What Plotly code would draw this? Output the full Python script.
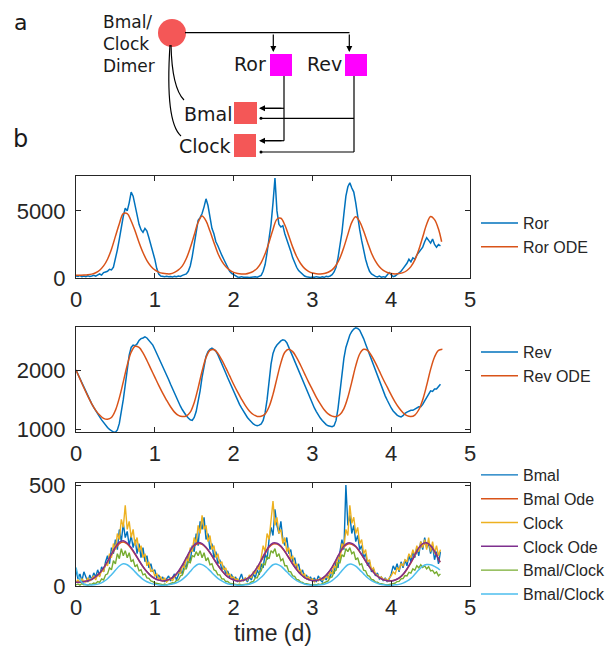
import numpy as np
import plotly.graph_objects as go

# ---------------- DATA ----------------
# stochastic series sampled every 0.025 d (0 .. 4.625)
t_stoch = [round(0.025 * i, 3) for i in range(186)]

ror = [150, 120, 180, 100, 140, 90, 160, 110,
       150, 200, 130, 250, 300, 220, 400, 450,
       500, 650, 600, 800, 1400, 2100, 2900, 3800,
       4600, 5200, 5000, 5600, 6400, 6100, 5300, 4600,
       4000, 3600, 3400, 3700, 3500, 3000, 2500, 2000,
       1400, 700, 300, 150, 120, 100, 130, 90,
       110, 80, 120, 90, 150, 120, 200, 280,
       300, 500, 900, 1600, 2500, 3500, 4300, 4500,
       4800, 5300, 5900, 5400, 4600, 3700, 3300, 2700,
       2400, 2000, 1700, 1400, 1100, 800, 500, 350,
       250, 150, 80, 60, 100, 50, 80, 60,
       40, 70, 50, 90, 60, 120, 200, 500,
       1000, 1900, 2900, 4000, 5600, 7450, 5000, 4000,
       3800, 3900, 3300, 2900, 2400, 2000, 1500, 1100,
       800, 550, 400, 250, 150, 100, 60, 40,
       80, 50, 100, 60, 40, 90, 50, 120,
       100, 150, 250, 450, 800, 1500, 2300, 3400,
       4800, 6100, 6800, 7100, 6700, 6400, 5600, 4400,
       3600, 2800, 2000, 1400, 900, 500, 300, 200,
       120, 80, 150, 60, 100, 50, 200, 400,
       250, 100, 150, 250, 400, 500, 700, 900,
       1100, 1400, 1200, 1500, 1400, 1700, 1900, 2100,
       2300, 2700, 3000, 2800, 2600, 2900, 2500, 2300,
       2500, 2400]

rev = [2000, 1925, 1850, 1775, 1700, 1630, 1560, 1490,
       1430, 1370, 1310, 1260, 1210, 1160, 1110, 1070,
       1030, 1000, 970, 955, 950, 990, 1100, 1280,
       1500, 1750, 2000, 2250, 2380, 2420, 2410, 2440,
       2500, 2530, 2540, 2560, 2540, 2500, 2470, 2420,
       2350, 2280, 2200, 2130, 2060, 1990, 1910, 1840,
       1760, 1680, 1600, 1530, 1460, 1390, 1330, 1270,
       1230, 1190, 1160, 1150, 1200, 1300, 1450, 1650,
       1880, 2080, 2230, 2310, 2350, 2370, 2350, 2320,
       2260, 2190, 2110, 2030, 1950, 1870, 1790, 1710,
       1640, 1560, 1490, 1420, 1360, 1300, 1250, 1200,
       1160, 1120, 1090, 1070, 1060, 1070, 1090, 1150,
       1280, 1500, 1800, 2100, 2280, 2370, 2420, 2460,
       2490, 2510, 2500, 2460, 2390, 2310, 2230, 2150,
       2070, 1990, 1900, 1820, 1740, 1660, 1580, 1500,
       1430, 1360, 1300, 1240, 1190, 1150, 1110, 1080,
       1060, 1050, 1045, 1060, 1150, 1350, 1650, 1950,
       2200, 2380, 2500, 2590, 2650, 2690, 2710, 2700,
       2670, 2610, 2530, 2440, 2350, 2260, 2170, 2080,
       1990, 1900, 1810, 1720, 1640, 1560, 1490, 1420,
       1360, 1310, 1270, 1240, 1220, 1210, 1230, 1270,
       1290, 1310, 1320, 1320, 1340, 1360, 1380, 1380,
       1420, 1480, 1540, 1600, 1650, 1640, 1680, 1680,
       1730, 1760]

bmal = [80, 35, 60, 25, 70, 40, 20, 55,
        30, 65, 45, 80, 50, 95, 70, 120,
        150, 110, 190, 160, 230, 180, 280, 220,
        310, 240, 270, 200, 250, 190, 230, 160,
        210, 140, 190, 120, 150, 90, 110, 70,
        80, 40, 55, 30, 45, 20, 35, 50,
        25, 40, 60, 30, 55, 80, 60, 110,
        90, 150, 120, 200, 170, 260, 200, 320,
        280, 340, 230, 260, 180, 210, 140, 170,
        110, 130, 80, 100, 60, 75, 45, 55,
        30, 45, 20, 35, 60, 25, 40, 20,
        45, 30, 60, 40, 80, 55, 110, 90,
        160, 130, 230, 290, 250, 380, 300, 260,
        320, 230, 200, 240, 160, 180, 120, 140,
        90, 110, 60, 80, 40, 55, 30, 45,
        25, 40, 20, 50, 30, 20, 45, 30,
        55, 40, 80, 60, 120, 90, 170, 230,
        180, 500, 300, 350, 260, 300, 220, 250,
        180, 200, 140, 160, 100, 120, 70, 85,
        50, 65, 35, 45, 25, 40, 20, 35,
        60, 100, 80, 110, 70, 120, 90, 130,
        100, 150, 120, 170, 140, 190, 150, 220,
        180, 240, 190, 210, 160, 200, 130, 170,
        110, 170]

clock = [20, 30, 15, 35, 25, 20, 40, 25,
         35, 50, 30, 60, 45, 80, 70, 110,
         100, 160, 140, 210, 180, 260, 230, 330,
         290, 400, 280, 320, 240, 280, 200, 240,
         170, 200, 140, 160, 100, 120, 70, 80,
         50, 60, 35, 45, 25, 40, 20, 30,
         40, 25, 45, 55, 70, 60, 100, 90,
         140, 120, 190, 170, 240, 210, 300, 260,
         350, 280, 300, 220, 250, 180, 200, 140,
         160, 110, 120, 80, 90, 55, 60, 40,
         45, 30, 35, 20, 30, 25, 40, 30,
         55, 40, 70, 60, 100, 80, 140, 200,
         170, 260, 230, 330, 420, 300, 340, 260,
         280, 210, 240, 170, 190, 130, 150, 100,
         110, 70, 80, 50, 60, 35, 45, 30,
         35, 20, 30, 25, 40, 30, 35, 50,
         40, 70, 60, 100, 90, 150, 130, 210,
         190, 280, 250, 400, 310, 340, 260, 290,
         210, 230, 160, 180, 120, 130, 80, 90,
         60, 55, 40, 45, 30, 35, 25, 40,
         50, 70, 60, 90, 80, 110, 100, 130,
         120, 160, 140, 180, 150, 200, 170, 220,
         190, 230, 180, 240, 170, 220, 160, 200,
         150, 180]

bmal_clock = [5, 10, 4, 12, 6, 8, 3, 10,
              8, 15, 12, 22, 18, 35, 30, 55,
              60, 90, 80, 125, 110, 160, 135, 185,
              150, 175, 140, 165, 120, 130, 95, 105,
              75, 80, 55, 60, 40, 38, 25, 22,
              15, 14, 10, 9, 6, 10, 5, 8,
              10, 16, 15, 28, 30, 50, 55, 85,
              85, 120, 115, 150, 145, 170, 150, 175,
              140, 165, 125, 140, 105, 110, 80, 75,
              55, 55, 36, 35, 22, 22, 14, 13,
              10, 8, 6, 9, 5, 7, 6, 10,
              12, 20, 22, 40, 40, 65, 75, 110,
              105, 145, 135, 175, 165, 185, 145, 160,
              125, 135, 100, 100, 72, 70, 50, 48,
              32, 30, 20, 18, 11, 11, 7, 7,
              5, 8, 6, 10, 7, 12, 14, 22,
              25, 42, 45, 72, 78, 115, 115, 155,
              145, 185, 170, 190, 160, 170, 130, 140,
              105, 110, 78, 75, 52, 48, 32, 30,
              20, 19, 12, 11, 7, 7, 5, 7,
              8, 13, 14, 22, 23, 35, 37, 52,
              50, 68, 64, 85, 78, 100, 90, 105,
              92, 100, 85, 95, 75, 78, 62, 70,
              50, 60]

# ODE solutions sampled every 0.05 d
t_ror_ode = [round(0.05 * i, 2) for i in range(93)] + [4.64]
ror_ode = [200, 205, 215, 240, 290, 390, 580, 900, 1400, 2150, 3100, 4050, 4800, 4800, 4250, 3500, 2650, 1900, 1300, 880,
           600, 440, 350, 310, 310, 420, 600, 900, 1450, 2250, 3200, 4150, 4620, 4250, 3500, 2650, 1850, 1250, 850, 580,
           420, 340, 305, 300, 370, 500, 730, 1150, 1800, 2670, 3620, 4380, 4450, 3950, 3150, 2300, 1600, 1080, 720, 500,
           370, 320, 305, 330, 430, 600, 950, 1500, 2300, 3250, 4150, 4560, 4200, 3500, 2650, 1850, 1250, 830, 560, 410,
           330, 305, 330, 400, 560, 850, 1350, 2100, 3050, 4000, 4580, 4350, 3650, 2700]

t_rev_ode = [round(0.05 * i, 2) for i in range(94)]
rev_ode = [2000, 1850, 1700, 1560, 1430, 1320, 1240, 1185, 1170, 1200, 1320, 1530, 1800, 2080, 2300, 2400, 2380, 2290, 2160, 2020,
           1880, 1740, 1610, 1490, 1380, 1290, 1235, 1215, 1225, 1290, 1450, 1700, 1980, 2210, 2330, 2345, 2280, 2170, 2040, 1900,
           1760, 1630, 1510, 1400, 1310, 1250, 1218, 1220, 1260, 1380, 1590, 1860, 2120, 2300, 2350, 2310, 2210, 2080, 1940, 1800,
           1670, 1540, 1430, 1330, 1260, 1222, 1215, 1250, 1350, 1540, 1800, 2070, 2270, 2350, 2330, 2240, 2120, 1980, 1840, 1710,
           1580, 1460, 1360, 1280, 1230, 1215, 1240, 1330, 1500, 1740, 2010, 2220, 2330, 2350]

t_bc_ode = [round(0.05 * i, 2) for i in range(93)] + [4.62]
bmal_ode = [20, 20, 22, 26, 33, 45, 62, 87, 118, 153, 186, 210, 218, 208, 186, 157, 125, 95, 70, 51,
            38, 30, 26, 28, 35, 49, 71, 101, 136, 171, 198, 210, 206, 189, 164, 133, 103, 77, 55, 40,
            31, 26, 27, 32, 43, 63, 90, 124, 160, 192, 208, 208, 195, 170, 140, 109, 82, 59, 43, 33,
            27, 28, 33, 44, 64, 91, 126, 162, 193, 208, 207, 194, 169, 139, 108, 80, 58, 42, 32, 27,
            26, 30, 39, 56, 82, 114, 150, 184, 205, 210, 197, 170, 134, 117]
clock_ode = [18, 19, 21, 26, 33, 46, 64, 90, 122, 158, 192, 217, 224, 213, 190, 160, 127, 96, 70, 50,
             37, 29, 25, 28, 35, 50, 73, 104, 140, 176, 203, 215, 210, 192, 166, 134, 103, 76, 54, 39,
             30, 25, 26, 32, 44, 65, 93, 128, 165, 197, 213, 212, 198, 172, 141, 109, 81, 58, 42, 32,
             26, 27, 33, 45, 66, 94, 130, 167, 198, 213, 211, 197, 171, 140, 108, 80, 57, 41, 31, 26,
             25, 30, 40, 58, 85, 118, 155, 189, 210, 214, 200, 172, 135, 118]
bmal_clock_ode = [92, 30, 10, 5, 5, 7, 12, 22, 36, 56, 78, 99, 110, 105, 90, 70, 50, 33, 21, 13,
                  8, 5, 4, 5, 8, 12, 20, 33, 50, 72, 94, 108, 106, 94, 76, 56, 38, 25, 15, 9,
                  6, 4, 4, 6, 9, 16, 27, 43, 64, 87, 105, 108, 98, 80, 60, 41, 27, 17, 10, 6,
                  4, 4, 6, 9, 16, 27, 43, 64, 87, 105, 108, 98, 80, 60, 41, 27, 17, 10, 6, 4,
                  4, 6, 8, 14, 24, 38, 58, 80, 98, 106, 105, 97, 85, 80]

x_ticks = [0, 1, 2, 3, 4, 5]

# ---------------- FIGURE ----------------
# the page body has an 8 px margin, so the figure is 8 px smaller and all
# reference pixel positions are shifted by 8 px
OFF = 8
W, H = 613 - OFF, 649 - OFF
def px(x):
    return (x - OFF) / W
def py(y):
    return 1 - (y - OFF) / H

BLUE, ORANGE, YELLOW, PURPLE, GREEN, CYAN = "#0072BD", "#D95319", "#EDB120", "#7E2F8E", "#77AC30", "#4DBEEE"
SANS = "Liberation Sans, Arial, sans-serif"

fig = go.Figure()
fig.add_trace(go.Scatter(x=t_stoch, y=ror, name="Ror", mode="lines", line=dict(color=BLUE, width=1.5),
                         xaxis="x", yaxis="y", legend="legend"))
fig.add_trace(go.Scatter(x=t_ror_ode, y=ror_ode, name="Ror ODE", mode="lines", line=dict(color=ORANGE, width=1.5, shape="spline"),
                         xaxis="x", yaxis="y", legend="legend"))
fig.add_trace(go.Scatter(x=t_stoch, y=rev, name="Rev", mode="lines", line=dict(color=BLUE, width=1.5),
                         xaxis="x2", yaxis="y2", legend="legend2"))
fig.add_trace(go.Scatter(x=t_rev_ode, y=rev_ode, name="Rev ODE", mode="lines", line=dict(color=ORANGE, width=1.5, shape="spline"),
                         xaxis="x2", yaxis="y2", legend="legend2"))
fig.add_trace(go.Scatter(x=t_stoch, y=bmal, name="Bmal", mode="lines", line=dict(color=BLUE, width=1.4),
                         xaxis="x3", yaxis="y3", legend="legend3"))
fig.add_trace(go.Scatter(x=t_bc_ode, y=bmal_ode, name="Bmal Ode", mode="lines", line=dict(color=ORANGE, width=1.5, shape="spline"),
                         xaxis="x3", yaxis="y3", legend="legend3"))
fig.add_trace(go.Scatter(x=t_stoch, y=clock, name="Clock", mode="lines", line=dict(color=YELLOW, width=1.4),
                         xaxis="x3", yaxis="y3", legend="legend3"))
fig.add_trace(go.Scatter(x=t_bc_ode, y=clock_ode, name="Clock Ode", mode="lines", line=dict(color=PURPLE, width=1.5, shape="spline"),
                         xaxis="x3", yaxis="y3", legend="legend3"))
fig.add_trace(go.Scatter(x=t_stoch, y=bmal_clock, name="Bmal/Clock", mode="lines", line=dict(color=GREEN, width=1.4),
                         xaxis="x3", yaxis="y3", legend="legend3"))
fig.add_trace(go.Scatter(x=t_bc_ode, y=bmal_clock_ode, name="Bmal/Clock", mode="lines", line=dict(color=CYAN, width=1.5, shape="spline"),
                         xaxis="x3", yaxis="y3", legend="legend3"))

AX = "#262626"
TICKFONT = dict(family=SANS, size=22, color=AX)
xdom = [px(76), px(470)]

def xax(anchor, title=None):
    d = dict(domain=xdom, anchor=anchor, range=[0, 5], tickvals=x_ticks, ticktext=[str(v) for v in x_ticks],
             ticks="inside", ticklen=5, tickcolor=AX, showline=True, linecolor=AX, linewidth=1, mirror="ticks",
             showgrid=False, zeroline=False, tickfont=TICKFONT, ticklabelstandoff=2, automargin=False)
    if title:
        d["title"] = dict(text=title, font=dict(family=SANS, size=23, color=AX), standoff=4)
    return d

def yax(anchor, dom, rng, tv):
    return dict(domain=dom, anchor=anchor, range=rng, tickvals=tv, ticktext=[str(v) for v in tv],
                ticks="inside", ticklen=5, tickcolor=AX, showline=True, linecolor=AX, linewidth=1, mirror="ticks",
                showgrid=False, zeroline=False, tickfont=TICKFONT, ticklabelstandoff=5, automargin=False)

LEGFONT = dict(family=SANS, size=16, color="#262626")
def leg(ytop):
    return dict(x=px(476), y=py(ytop), xanchor="left", yanchor="top", font=LEGFONT, bgcolor="rgba(0,0,0,0)",
                borderwidth=0, itemwidth=37, tracegroupgap=0)

RED = "#F45757"
MAG = "#FF00FF"
shapes = [
    dict(type="circle", xref="paper", yref="paper", x0=px(158), x1=px(186), y0=py(47), y1=py(19), fillcolor=RED, line=dict(width=0)),
    dict(type="rect", xref="paper", yref="paper", x0=px(270), x1=px(292), y0=py(76), y1=py(54), fillcolor=MAG, line=dict(width=0)),
    dict(type="rect", xref="paper", yref="paper", x0=px(345), x1=px(367), y0=py(76), y1=py(54), fillcolor=MAG, line=dict(width=0)),
    dict(type="rect", xref="paper", yref="paper", x0=px(234), x1=px(257), y0=py(124), y1=py(102), fillcolor=RED, line=dict(width=0)),
    dict(type="rect", xref="paper", yref="paper", x0=px(234), x1=px(256), y0=py(157), y1=py(134), fillcolor=RED, line=dict(width=0)),
]
BL = dict(color="black", width=1.2)
for (x0, y0, x1, y1) in [(185, 32.7, 349.5, 32.7), (284, 76, 284, 140.7), (354, 76, 354, 152),
                         (284, 108.3, 262, 108.3), (284, 140.7, 262, 140.7),
                         (354, 118.3, 262, 118.3), (354, 152, 262, 152)]:
    shapes.append(dict(type="line", xref="paper", yref="paper", x0=px(x0), y0=py(y0), x1=px(x1), y1=py(y1), line=BL))
for yy in [118.3, 152]:
    shapes.append(dict(type="circle", xref="paper", yref="paper", x0=px(259.5), x1=px(262.5), y0=py(yy + 1.5), y1=py(yy - 1.5),
                       fillcolor="black", line=dict(width=0)))
shapes.append(dict(type="path", xref="paper", yref="paper",
                   path=f"M {px(171)},{py(45)} Q {px(172)},{py(88)} {px(184)},{py(100)}", line=BL))
shapes.append(dict(type="path", xref="paper", yref="paper",
                   path=f"M {px(170)},{py(45)} Q {px(165)},{py(122)} {px(181)},{py(136)}", line=BL))

annotations = []
for (x, y, ax, ay) in [(273.3, 52, 0, -19), (349.3, 52, 0, -19), (259, 108.3, 24, 0), (259, 140.7, 24, 0)]:
    annotations.append(dict(xref="paper", yref="paper", x=px(x), y=py(y), ax=ax, ay=ay, text="", showarrow=True,
                            arrowhead=2, arrowsize=1, arrowwidth=1.2, arrowcolor="black"))
DJ = "DejaVu Sans"
def txt(s, x, y, size, xanchor="center", yanchor="middle"):
    annotations.append(dict(xref="paper", yref="paper", x=px(x), y=py(y), text=s, showarrow=False,
                            xanchor=xanchor, yanchor=yanchor, font=dict(family=DJ, size=size, color="#1a1a1a")))
txt("a", 20, 8, 22, yanchor="top")
txt("b", 20, 139, 24)
txt("Bmal/", 101, 22, 17, "left")
txt("Clock", 101, 44, 17, "left")
txt("Dimer", 101, 66, 17, "left")
txt("Ror", 268, 64, 19, "right")
txt("Rev", 344, 64, 19, "right")
txt("Bmal", 234, 114, 19, "right")
txt("Clock", 233, 146, 19, "right")

fig.update_layout(
    width=W, height=H, margin=dict(l=0, r=0, t=0, b=0, autoexpand=False),
    paper_bgcolor="white", plot_bgcolor="white", showlegend=True,
    xaxis=xax("y"), yaxis=yax("x", [py(278), py(176)], [0, 7600], [0, 5000]),
    xaxis2=xax("y2"), yaxis2=yax("x2", [py(432), py(327)], [955, 2725], [1000, 2000]),
    xaxis3=xax("y3", "time (d)"), yaxis3=yax("x3", [py(586), py(483)], [0, 510], [0, 500]),
    legend=leg(206), legend2=leg(335), legend3=leg(458),
    shapes=shapes, annotations=annotations,
)

fig.write_html("out.html")
